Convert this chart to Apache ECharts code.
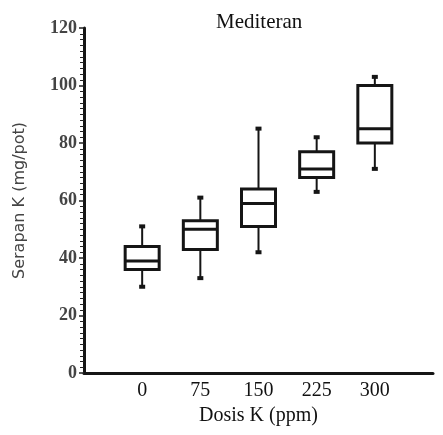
<!DOCTYPE html>
<html>
<head>
<meta charset="utf-8">
<script src="https://cdn.jsdelivr.net/npm/echarts@6/dist/echarts.min.js"></script>
<style>
    html, body { margin: 0; padding: 0; background: #fff; }
    #main { width: 443px; height: 435px; }
</style>
</head>
<body>
<div id="main"></div>
<script>
// Dosis K categories and box statistics (Serapan K, mg/pot)
var categories = ['0', '75', '150', '225', '300'];
var whiskerMin = [30, 33, 42, 63, 71];
var q1 = [36, 43, 51, 68, 80];
var median = [39, 50, 59, 71, 85];
var q3 = [44, 53, 64, 77, 100];
var whiskerMax = [51, 61, 85, 82, 103];
var yTicks = [0, 20, 40, 60, 80, 100, 120];

var boxData = categories.map(function (c, i) {
    return [i, whiskerMin[i], q1[i], median[i], q3[i], whiskerMax[i]];
});

function renderBox(params, api) {
    var x = api.value(0);
    var pMin = api.coord([x, api.value(1)]);
    var pQ1 = api.coord([x, api.value(2)]);
    var pMed = api.coord([x, api.value(3)]);
    var pQ3 = api.coord([x, api.value(4)]);
    var pMax = api.coord([x, api.value(5)]);
    var half = 17;
    var ink = '#151515';
    var cx = pMed[0];
    return {
        type: 'group',
        children: [
            { type: 'line', shape: { x1: cx, y1: pMax[1], x2: cx, y2: pQ3[1] }, style: { stroke: ink, lineWidth: 2 } },
            { type: 'line', shape: { x1: cx, y1: pQ1[1], x2: cx, y2: pMin[1] }, style: { stroke: ink, lineWidth: 2 } },
            { type: 'rect', shape: { x: cx - half, y: pQ3[1], width: half * 2, height: pQ1[1] - pQ3[1] },
              style: { fill: '#fff', stroke: ink, lineWidth: 3 } },
            { type: 'line', shape: { x1: cx - half, y1: pMed[1], x2: cx + half, y2: pMed[1] }, style: { stroke: ink, lineWidth: 3 } },
            { type: 'line', shape: { x1: cx - 3, y1: pMax[1], x2: cx + 3, y2: pMax[1] }, style: { stroke: ink, lineWidth: 4 } },
            { type: 'line', shape: { x1: cx - 3, y1: pMin[1], x2: cx + 3, y2: pMin[1] }, style: { stroke: ink, lineWidth: 4 } }
        ]
    };
}

var myChart = echarts.init(document.getElementById('main'));
var option = {
    animation: false,
    backgroundColor: '#fff',
    title: {
        text: 'Mediteran',
        left: 211,
        top: 7,
        textStyle: { fontFamily: 'Liberation Serif', fontSize: 21, fontWeight: 'normal', color: '#111' }
    },
    grid: { left: 84, right: 10, top: 28, bottom: 62 },
    xAxis: {
        type: 'value',
        min: -1,
        max: 5,
        interval: 1,
        name: 'Dosis K (ppm)',
        nameLocation: 'middle',
        nameGap: 26,
        nameTextStyle: { fontFamily: 'Liberation Serif', fontSize: 20, color: '#111' },
        axisLine: { show: true, onZero: false, lineStyle: { color: '#151515', width: 3 } },
        axisTick: { show: false },
        splitLine: { show: false },
        axisLabel: {
            margin: 8,
            fontFamily: 'Liberation Serif',
            fontSize: 20,
            color: '#111',
            formatter: function (v) {
                return categories[v] !== undefined ? categories[v] : '';
            }
        }
    },
    yAxis: {
        type: 'value',
        min: 0,
        max: 120,
        interval: 20,
        name: 'Serapan K (mg/pot)',
        nameLocation: 'middle',
        nameGap: 56,
        nameTextStyle: { fontFamily: 'DejaVu Sans', fontSize: 16, color: '#444' },
        axisLine: { show: true, onZero: false, lineStyle: { color: '#151515', width: 3 } },
        axisTick: { show: true, length: 5, lineStyle: { color: '#222', width: 1.5 } },
        minorTick: { show: true, splitNumber: 10, length: 4, lineStyle: { color: '#222', width: 1 } },
        splitLine: { show: false },
        axisLabel: {
            margin: 7,
            fontFamily: 'Liberation Serif',
            fontSize: 18,
            fontWeight: 'bold',
            color: '#444',
            formatter: function (v) {
                return yTicks.indexOf(v) >= 0 ? String(v) : '';
            }
        }
    },
    series: [
        {
            type: 'custom',
            renderItem: renderBox,
            encode: { x: 0, y: [1, 2, 3, 4, 5] },
            data: boxData
        }
    ]
};
myChart.setOption(option);
</script>
</body>
</html>
